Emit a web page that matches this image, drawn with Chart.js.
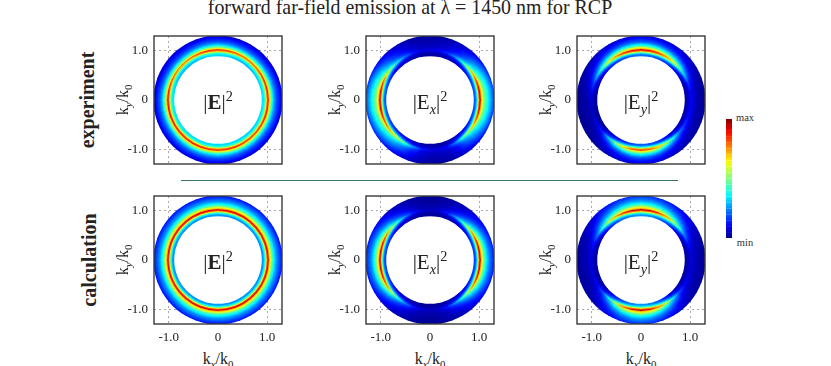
<!DOCTYPE html>
<html lang="en">
<head>
  <meta charset="UTF-8">
  <title>forward far-field emission</title>
  <style>
    html, body { margin: 0; padding: 0; background: #fff; }
    body { width: 831px; height: 366px; position: relative; overflow: hidden; font-family: "Liberation Serif", serif; color: #222; }
    canvas { position: absolute; }
    .txt { position: absolute; white-space: nowrap; transform: translate(-50%, -50%); }
    .rot { transform: translate(-50%, -50%) rotate(-90deg); }
    .axis { font-size: 16px; }
    .row { font-size: 20px; font-weight: bold; }
    .big { font-size: 21px; }
    .bar { font-size: 10.5px; color: #333; }
    sub, sup { font-size: .68em; line-height: 0; }
    #rule { position: absolute; left: 181px; top: 180px; width: 497px; height: 1px; background: #3a7560; }
  </style>
</head>
<body>
  <div class="txt" style="left:410px; top:7px; font-size:19.9px;">forward far-field emission at λ = 1450 nm for RCP</div>
  <div class="txt rot row" style="left:87px; top:100px;">experiment</div>
  <div class="txt rot row" style="left:89px; top:260px;">calculation</div>
  <div id="rule"></div>
  <div class="txt bar" style="left:745px; top:117px;">max</div>
  <div class="txt bar" style="left:745px; top:242px;">min</div>

  <script src="https://cdn.jsdelivr.net/npm/chart.js"></script>
  <script>
    // k/k0 of each ring and angle of each sector (degrees, counter clockwise from +kx)
    const ringRadii = [0.91, 0.93, 0.95, 0.97, 0.99, 1.01, 1.03, 1.05, 1.07, 1.09, 1.11, 1.13, 1.15, 1.17, 1.19, 1.21, 1.23, 1.25, 1.27, 1.29];
    const sectorAngles = [0, 10, 20, 30, 40, 50, 60, 70, 80, 90, 100, 110, 120, 130, 140, 150, 160, 170, 180, 190, 200, 210, 220, 230, 240, 250, 260, 270, 280, 290, 300, 310, 320, 330, 340, 350];
    const tickValues = [-1, 0, 1];
    const tickLabels = ['-1.0', '0', '1.0'];
    const colorbarLevels = [0, 5, 10, 15, 20, 25, 30, 35, 40, 45, 50, 55, 60, 65, 70, 75, 80, 85, 90, 95, 100];

    // intensity, 0 = min, 100 = max: one radial profile, one angular envelope per panel
    const expEProfile = [34, 40, 48, 62, 82, 90, 70, 58, 48, 40, 33, 28, 24, 21, 18, 16, 14, 12, 9, 7];
    const expEEnvelope = [98, 98, 96, 94, 90, 88, 88, 90, 94, 96, 96, 92, 88, 86, 86, 88, 92, 97, 100, 100, 100, 99, 98, 98, 98, 96, 96, 96, 96, 96, 94, 94, 94, 96, 98, 98];
    const expExProfile = [20, 28, 40, 58, 84, 95, 74, 64, 56, 50, 46, 43, 40, 36, 33, 30, 27, 24, 21, 18];
    const expExEnvelope = [100, 100, 92, 78, 60, 40, 26, 16, 11, 9, 9, 14, 24, 36, 52, 72, 88, 98, 100, 100, 92, 84, 74, 62, 46, 28, 15, 9, 9, 12, 24, 44, 60, 76, 90, 98];
    const expEyProfile = [22, 30, 44, 60, 84, 92, 72, 62, 52, 43, 36, 30, 25, 21, 18, 16, 14, 12, 10, 8];
    const expEyEnvelope = [12, 12, 18, 34, 52, 70, 82, 92, 98, 100, 98, 92, 82, 68, 50, 34, 20, 11, 7, 6, 6, 9, 16, 34, 56, 74, 88, 92, 88, 78, 60, 42, 26, 18, 13, 12];
    const calcEProfile = [26, 34, 44, 60, 84, 92, 72, 62, 54, 46, 40, 35, 31, 27, 24, 22, 19, 17, 15, 13];
    const calcEEnvelope = [100, 100, 100, 100, 100, 100, 100, 100, 100, 100, 100, 100, 100, 100, 100, 100, 100, 100, 100, 100, 100, 100, 100, 100, 100, 100, 100, 100, 100, 100, 100, 100, 100, 100, 100, 100];
    const calcExProfile = [18, 26, 38, 58, 84, 95, 72, 62, 54, 47, 41, 36, 32, 28, 25, 22, 20, 18, 16, 14];
    const calcExEnvelope = [100, 99, 94, 82, 62, 42, 26, 14, 7, 5, 7, 14, 26, 42, 62, 82, 94, 99, 100, 99, 94, 82, 62, 42, 26, 14, 7, 5, 7, 14, 26, 42, 62, 82, 94, 99];
    const calcEyProfile = [26, 34, 46, 62, 84, 96, 74, 66, 58, 50, 44, 38, 34, 30, 27, 24, 22, 20, 18, 16];
    const calcEyEnvelope = [8, 9, 14, 26, 44, 62, 78, 90, 98, 100, 98, 90, 78, 62, 44, 26, 14, 9, 8, 8, 8, 11, 20, 38, 62, 82, 95, 100, 95, 82, 62, 38, 20, 11, 9, 8];

    const panels = [
      [expEProfile, expEEnvelope, '|<b>E</b>|<sup>2</sup>'],
      [expExProfile, expExEnvelope, '|E<sub><i>x</i></sub>|<sup>2</sup>'],
      [expEyProfile, expEyEnvelope, '|E<sub><i>y</i></sub>|<sup>2</sup>'],
      [calcEProfile, calcEEnvelope, '|<b>E</b>|<sup>2</sup>'],
      [calcExProfile, calcExEnvelope, '|E<sub><i>x</i></sub>|<sup>2</sup>'],
      [calcEyProfile, calcEyEnvelope, '|E<sub><i>y</i></sub>|<sup>2</sup>']
    ];

    const panelLefts = [154, 366, 577];
    const panelTops = [36, 196];
    const boxSize = 128;
    const gutter = 40, margin = 4, xAxisHeight = 22;

    // jet colour map
    const jetStops = [[0, 0, 0, 143], [0.11, 0, 0, 255], [0.36, 0, 255, 255], [0.5, 128, 255, 128], [0.64, 255, 255, 0], [0.89, 255, 0, 0], [1, 128, 0, 0]];
    function jet(v) {
      const t = Math.min(Math.max(v / 100, 0), 1);
      for (let i = 1; i < jetStops.length; i++) {
        const a = jetStops[i - 1], b = jetStops[i];
        if (t <= b[0]) {
          const f = (t - a[0]) / (b[0] - a[0]);
          return 'rgb(' + [1, 2, 3].map(k => Math.round(a[k] + (b[k] - a[k]) * f)).join(',') + ')';
        }
      }
      return 'rgb(128,0,0)';
    }

    // each segment fades from the colour of one read value to the next
    function segmentColor(ctx) {
      const data = ctx.chart.data.datasets[ctx.datasetIndex].data;
      const g = ctx.chart.ctx.createLinearGradient(ctx.p0.x, ctx.p0.y, ctx.p1.x, ctx.p1.y);
      g.addColorStop(0, jet(data[ctx.p0DataIndex].v));
      g.addColorStop(1, jet(data[ctx.p1DataIndex].v));
      return g;
    }

    const frame = {
      id: 'frame',
      afterDraw(chart) {
        const a = chart.chartArea, c = chart.ctx;
        c.save();
        c.strokeStyle = '#3a3a3a';
        c.lineWidth = 1.4;
        c.strokeRect(a.left, a.top, a.right - a.left, a.bottom - a.top);
        c.restore();
      }
    };

    function addText(cls, html, left, top) {
      const d = document.createElement('div');
      d.className = 'txt ' + cls;
      d.style.left = left + 'px';
      d.style.top = top + 'px';
      d.innerHTML = html;
      document.body.appendChild(d);
    }

    function addCanvas(left, top, w, h) {
      const c = document.createElement('canvas');
      c.width = w;
      c.height = h;
      c.style.left = left + 'px';
      c.style.top = top + 'px';
      document.body.appendChild(c);
      return c;
    }

    function axis(showLabels, size, isX) {
      return {
        type: 'linear', min: -1.3, max: 1.3,
        afterFit: s => {
          if (isX) s.height = size; else s.width = size;
          s.paddingTop = s.paddingBottom = s.paddingLeft = s.paddingRight = 0;
        },
        afterBuildTicks: s => { s.ticks = tickValues.map(value => ({ value })); },
        grid: { color: c => c.tick && c.tick.value === 0 ? 'rgba(0,0,0,0)' : '#a8a8a8', lineWidth: 1, drawTicks: false },
        border: { display: false, dash: [2, 3] },
        ticks: {
          display: showLabels, autoSkip: false, maxRotation: 0, padding: 6, color: '#222',
          font: { family: 'Liberation Serif', size: 13 },
          callback: v => tickLabels[tickValues.indexOf(v)]
        }
      };
    }

    panels.forEach((p, idx) => {
      const col = idx % 3, row = Math.floor(idx / 3);
      const left = panelLefts[col], top = panelTops[row];
      const bottomRow = row === 1;
      const canvas = addCanvas(left - gutter, top - margin, gutter + boxSize + margin, margin + boxSize + (bottomRow ? xAxisHeight : margin));

      const datasets = ringRadii.map((r, ri) => {
        const data = sectorAngles.map((deg, si) => ({
          x: r * Math.cos(deg * Math.PI / 180),
          y: r * Math.sin(deg * Math.PI / 180),
          v: p[0][ri] * p[1][si] / 100
        }));
        data.push(data[0]);
        return { data, showLine: true, pointRadius: 0, borderWidth: 2, borderCapStyle: 'round', tension: 0.33, segment: { borderColor: segmentColor } };
      });

      new Chart(canvas, {
        type: 'scatter',
        data: { datasets },
        plugins: [frame],
        options: {
          responsive: false, animation: false, events: [],
          layout: { padding: { top: margin, right: margin, bottom: bottomRow ? 0 : margin } },
          plugins: { legend: { display: false }, tooltip: { enabled: false } },
          scales: {
            x: axis(bottomRow, bottomRow ? xAxisHeight : 0, true),
            y: axis(true, gutter, false)
          }
        }
      });

      addText('rot axis', 'k<sub><i>y</i></sub>/k<sub>0</sub>', left - 31, top + 64);
      if (bottomRow) addText('axis', 'k<sub><i>x</i></sub>/k<sub>0</sub>', left + 64, top + 163);
      addText('big', p[2], left + 64, top + 66);
    });

    // colour bar
    new Chart(addCanvas(726, 119, 6, 119), {
      type: 'scatter',
      data: { datasets: [{
        data: colorbarLevels.map(v => ({ x: 0, y: v, v })),
        showLine: true, pointRadius: 0, borderWidth: 6, tension: 0,
        segment: { borderColor: segmentColor }
      }] },
      options: {
        responsive: false, animation: false, events: [],
        plugins: { legend: { display: false }, tooltip: { enabled: false } },
        scales: {
          x: { display: false, min: -1, max: 1 },
          y: { display: false, min: 0, max: 100 }
        }
      }
    });
  </script>
</body>
</html>
